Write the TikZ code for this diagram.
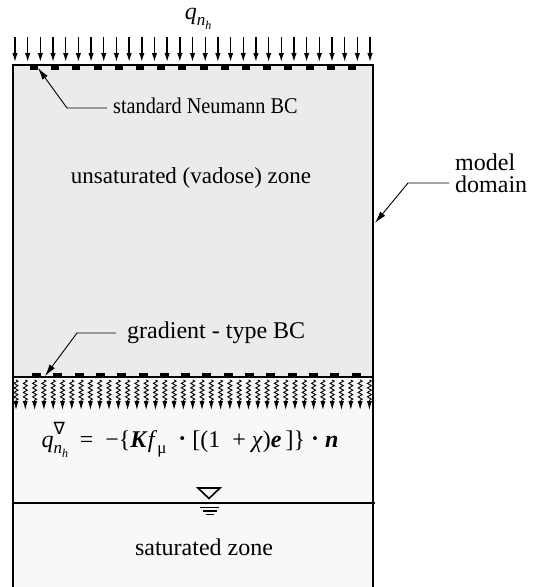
\documentclass[tikz,border=0pt]{standalone}
\usepackage{fontspec}
\setmainfont{Liberation Serif}
\newfontfamily\symfnt{DejaVu Sans}
\newfontfamily\narrowfnt[FakeStretch=0.9]{Liberation Serif}
\usetikzlibrary{arrows.meta,decorations.pathmorphing}
\definecolor{unsatcol}{HTML}{EBEBEB}
\definecolor{satcol}{HTML}{F8F8F8}
\newcommand\qnhsub{\raisebox{-5.5pt}{\fontsize{17}{17}\selectfont\itshape n\raisebox{-4pt}{\fontsize{12}{12}\selectfont h}}}
\newcommand\bdot{\raisebox{1pt}{\textbf{·}}}
\tikzset{
  lbl/.style={inner sep=0pt, text height=15pt, text depth=4pt},
  lead/.style={line width=0.9pt, -{Latex[length=12pt,width=6.5pt]}},
  fluxarrow/.style={line width=1.4pt, -{Latex[length=9pt,width=5.5pt]}},
  wavyarrow/.style={line width=0.9pt, decorate, decoration={zigzag, amplitude=2pt, segment length=4.5pt, post length=9pt}, -{Latex[length=9pt,width=5pt]}}
}
\begin{document}
\begin{tikzpicture}[x=1pt,y=-1pt]
\useasboundingbox (0,0) rectangle (534,587);
% zone fills
\fill[satcol] (13,377) rectangle (373,587);
\fill[unsatcol] (13,65) rectangle (373,377);
% top flux arrows
\foreach \i in {0,...,28}
  \draw[fluxarrow] (15+12.68*\i,37) -- ++(0,25);
% boundary dashes
\foreach \i in {0,...,15}
  \fill (30+21.2*\i,65) rectangle ++(8,4.5);
\foreach \i in {0,...,15}
  \fill (32+21.3*\i,372.5) rectangle ++(9,4.5);
% model domain outline
\draw[line width=2.6pt, line join=miter] (13,377) -- (13,65) -- (373,65) -- (373,377);
\draw[line width=2pt] (13,377) -- (373,377);
\draw[line width=1.7pt] (13,377) -- (13,587);
\draw[line width=1.7pt] (373,377) -- (373,587);
% gradient-type wavy arrows
\foreach \i in {0,...,38}
  \draw[wavyarrow] (16+9.3*\i,380) -- (16+9.3*\i,410);
% water table
\draw[line width=2pt] (13,503) -- (375,503);
\draw[line width=1.6pt, line join=miter] (198,488) -- (220,488) -- (209,498.5) -- cycle;
\draw[line width=1.5pt] (200,507.5) -- (219,507.5);
\draw[line width=1.5pt] (202.5,511) -- (216.5,511);
\draw[line width=1.5pt] (205.5,514.5) -- (213.5,514.5);
% labels
\node[inner sep=0pt, font=\fontsize{24}{26}\selectfont] (qtop) at (198,19) {\itshape q\qnhsub};
\node[lbl, anchor=west, font=\narrowfnt\fontsize{22.5}{25}\selectfont] (neu) at (113,108) {standard Neumann BC};
\node[lbl, font=\fontsize{23}{25}\selectfont] (unsat) at (191,178) {unsaturated (vadose) zone};
\node[inner sep=0pt, font=\fontsize{24}{22}\selectfont, align=left, anchor=west, text depth=5pt] (md) at (455,176) {model\\domain};
\node[lbl, anchor=west, font=\fontsize{24}{26}\selectfont] (grad) at (127,333) {gradient - type BC};
\node[inner sep=0pt, font=\fontsize{24}{26}\selectfont] (eq) at (190,440)
  {\itshape q\rlap{\qnhsub}\raisebox{13pt}{\fontsize{17}{17}\selectfont\symfnt ∇}\hspace{3pt}\upshape\ \ =\ \ −\{\textbf{\textit{K}}\textit{f}\raisebox{-5.5pt}{\fontsize{17}{17}\selectfont μ}\ \ \bdot\ [(1\ \ +\ \textit{χ})\textbf{\textit{e}}\,]\}\ \bdot\ \textbf{\textit{n}}};
\node[lbl, font=\fontsize{24}{26}\selectfont] (sat) at (204,550) {saturated zone};
% leaders
\coordinate (neuk) at (67,108);
\coordinate (neutip) at (38,68);
\draw[lead] ([xshift=-6pt]neu.west) -- (neuk) -- (neutip);
\coordinate (mdk) at (408,183);
\coordinate (mdtip) at (375,223);
\draw[lead] ([xshift=-6pt,yshift=-7pt]md.west) -- (mdk) -- (mdtip);
\coordinate (gradk) at (77,333);
\coordinate (gradtip) at (45,376);
\draw[lead] ([xshift=-11pt]grad.west) -- (gradk) -- (gradtip);
\end{tikzpicture}
\end{document}
